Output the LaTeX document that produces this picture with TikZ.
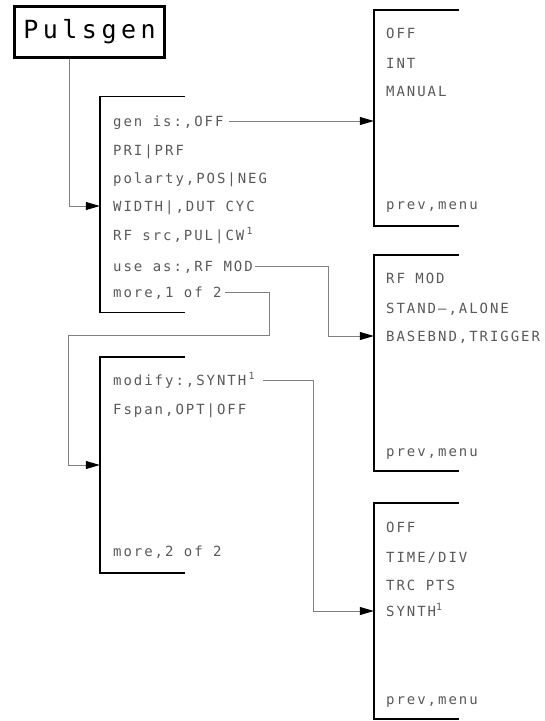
\documentclass[tikz,border=0pt]{standalone}
\usepackage{fontspec}
\usetikzlibrary{arrows.meta}
\newfontfamily\plotfont{DejaVu Sans Mono}[LetterSpace=14]
\newfontfamily\titlefont{DejaVu Sans Mono}[LetterSpace=18]

\begin{document}
\begin{tikzpicture}[x=1pt,y=-1pt,
  menu/.style={minimum width=85pt,minimum height=216pt,inner sep=0pt},
  bracket/.style={line width=1.5pt},
  item/.style={anchor=west,inner sep=0pt,text height=10pt,text depth=0pt,
    font=\plotfont\fontsize{14}{14}\selectfont,text=black!65},
  link/.style={draw=black!50,line width=0.8pt,-{Triangle[length=14pt,width=8pt,color=black]}}
]
  \useasboundingbox (0,0) rectangle (545,721);

  % softkey menus
  \node[draw,line width=3pt,minimum width=150pt,minimum height=51pt,inner sep=0pt,
    font=\titlefont\fontsize{25}{25}\selectfont] (pg) at (89.5,32) {Pulsgen};
  \node[menu] (m1) at (142.5,204.5) {};
  \node[menu] (m2) at (142.5,465) {};
  \node[menu] (r1) at (416.5,118) {};
  \node[menu] (r2) at (416.5,363) {};
  \node[menu] (r3) at (416.5,611) {};

  \draw[bracket] (m1.north east) -- (m1.north west) -- (m1.south west) -- (m1.south east);
  \draw[bracket] (m2.north east) -- (m2.north west) -- (m2.south west) -- (m2.south east);
  \draw[bracket] (r1.north east) -- (r1.north west) -- (r1.south west) -- (r1.south east);
  \draw[bracket] (r2.north east) -- (r2.north west) -- (r2.south west) -- (r2.south east);
  \draw[bracket] (r3.north east) -- (r3.north west) -- (r3.south west) -- (r3.south east);

  % menu 1 of 2
  \node[item] (g1) at (113,121) {gen is:,OFF};
  \node[item] (p1) at (113,150) {PRI|PRF};
  \node[item] (po1) at (113,178) {polarty,POS|NEG};
  \node[item] (w1) at (113,206) {WIDTH|,DUT CYC};
  \node[item] (rf1) at (113,235) {RF src,PUL|CW\,\textsuperscript{1}};
  \node[item] (u1) at (113,266) {use as:,RF MOD};
  \node[item] (mo1) at (113,292) {more,1 of 2};

  % menu 2 of 2
  \node[item] (md2) at (113,380) {modify:,SYNTH\,\textsuperscript{1}};
  \node[item] (fs2) at (113,409) {Fspan,OPT|OFF};
  \node[item] (mo2) at (113,551) {more,2 of 2};

  % gen is
  \node[item] (o1) at (386,33) {OFF};
  \node[item] (i1) at (386,63) {INT};
  \node[item] (ma1) at (386,91) {MANUAL};
  \node[item] (pv1) at (386,204) {prev,menu};

  % use as
  \node[item] (rm2) at (386,278) {RF MOD};
  \node[item] (sa2) at (386,308) {STAND–,ALONE};
  \node[item] (bb2) at (386,336) {BASEBND,TRIGGER};
  \node[item] (pv2) at (386,451) {prev,menu};

  % modify
  \node[item] (o3) at (386,527) {OFF};
  \node[item] (td3) at (386,557) {TIME/DIV};
  \node[item] (tp3) at (386,585) {TRC PTS};
  \node[item] (sy3) at (386,611) {SYNTH\textsuperscript{1}};
  \node[item] (pv3) at (386,699) {prev,menu};

  \coordinate (k1) at (328,0);
  \coordinate (k2) at (269,335);
  \coordinate (k3) at (68,335);
  \coordinate (k4) at (313,0);

  \draw[link] ([xshift=-20.5pt]pg.south) |- (m1.west |- w1);
  \draw[link] ([xshift=5pt]g1.east) -- (r1.west |- g1);
  \draw[link] ([xshift=2pt]u1.east) -| (k1 |- bb2) -- (r2.west |- bb2);
  \draw[link] ([xshift=3pt]mo1.east) -| (k2) -- (k3) |- (m2.west);
  \draw[link] ([xshift=8pt]md2.east) -| (k4 |- sy3) -- (r3.west |- sy3);
\end{tikzpicture}
\end{document}
